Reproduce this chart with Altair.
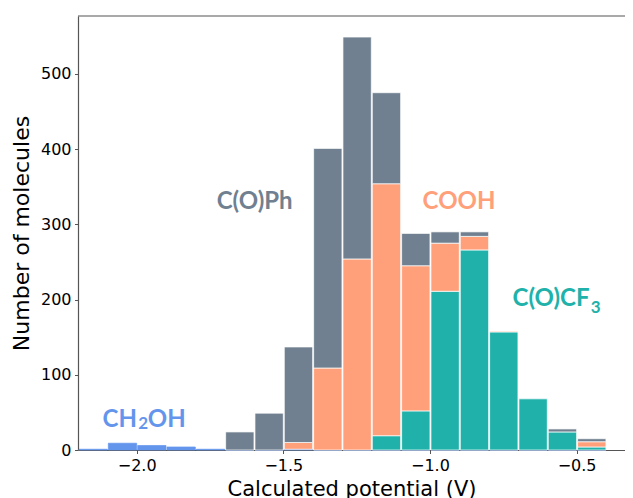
import altair as alt
import pandas as pd

bin_starts = [-2.2, -2.1, -2.0, -1.9, -1.8, -1.7, -1.6, -1.5, -1.4, -1.3,
              -1.2, -1.1, -1.0, -0.9, -0.8, -0.7, -0.6, -0.5]
bin_width = 0.1
series_names = ["CH2OH", "C(O)CF3", "COOH", "C(O)Ph"]
ch2oh = [1, 9, 6, 4, 1, 0, 0, 1, 0, 0, 0, 0, 0, 0, 0, 0, 0, 0]
cocf3 = [0, 0, 0, 0, 0, 0, 0, 0, 0, 0, 19, 52, 211, 266, 157, 68, 24, 4]
cooh = [0, 0, 0, 0, 0, 0, 0, 9, 109, 254, 335, 193, 64, 18, 1, 0, 0, 7]
coph = [0, 0, 0, 0, 0, 24, 49, 127, 292, 295, 121, 43, 15, 6, 0, 0, 4, 4]
colors = ["#6495ED", "#20B2AA", "#FFA07A", "#708090"]

x_ticks = [-2.0, -1.5, -1.0, -0.5]
y_ticks = [0, 100, 200, 300, 400, 500]

rows = []
for order, (name, vals) in enumerate(zip(series_names, [ch2oh, cocf3, cooh, coph])):
    for b, v in zip(bin_starts, vals):
        rows.append({"start": b, "end": round(b + bin_width, 2), "count": v,
                     "series": name, "order": order})
df = pd.DataFrame(rows)

# annotation labels (text pieces for subscripts)
ann_text = ["C(O)Ph", "COOH", "C(O)CF", "3", "CH", "2", "OH"]
ann_x = [-1.727, -1.025, -0.456, -0.452, -1.999, -1.995, -1.962]
ann_y = [319.8, 320.0, 191.3, 182.4, 31.0, 27.5, 31.0]
ann_align = ["left", "left", "right", "left", "right", "left", "left"]
ann_color = ["#708090", "#FFA07A", "#20B2AA", "#20B2AA", "#6495ED", "#6495ED", "#6495ED"]
ann_size = [24, 24, 24, 17, 24, 17, 24]
ann = pd.DataFrame({"text": ann_text, "x": ann_x, "y": ann_y, "align": ann_align,
                    "color": ann_color, "size": ann_size})

xdom = [-2.2, -0.335]
ydom = [0, 577]

xscale = alt.Scale(domain=xdom, nice=False, zero=False)
yscale = alt.Scale(domain=ydom, nice=False)

bars = alt.Chart(df).transform_filter(
    "datum.count > 0 || datum.series == 'CH2OH'"
).mark_bar(strokeWidth=1, strokeOpacity=0.7).encode(
    x=alt.X("start:Q", bin="binned", scale=xscale,
            axis=alt.Axis(values=x_ticks, format=".1f", title="Calculated potential (V)",
                          titleY=45, titleBaseline="alphabetic", titleFontSize=21)),
    x2="end:Q",
    y=alt.Y("count:Q", stack="zero", scale=yscale,
            axis=alt.Axis(values=y_ticks, title="Number of molecules",
                          titleFontSize=22, titleX=-50, titleBaseline="alphabetic")),
    color=alt.Color("series:N", scale=alt.Scale(domain=series_names, range=colors), legend=None),
    stroke=alt.condition(alt.datum.series == "CH2OH", alt.value("#6495ED"), alt.value("white")),
    order=alt.Order("order:Q", sort="ascending"),
)

def label_layer(sub):
    return alt.Chart(sub).mark_text(font="Lato", fontWeight="bold",
                                    baseline="alphabetic",
                                    align=sub["align"].iloc[0]).encode(
        x=alt.X("x:Q", scale=xscale),
        y=alt.Y("y:Q", scale=yscale),
        text="text:N",
        color=alt.Color("color:N", scale=None),
        size=alt.Size("size:Q", scale=None),
    )

labels_left = label_layer(ann[ann["align"] == "left"])
labels_right = label_layer(ann[ann["align"] == "right"])

top_spine = alt.Chart(pd.DataFrame({"a": [0]})).mark_rule(color="#555555", strokeWidth=1.2).encode(
    x=alt.value(0), x2=alt.value(547), y=alt.value(0)
)

chart = alt.layer(bars, labels_left, labels_right, top_spine).properties(
    width=547, height=434,
    autosize=alt.AutoSizeParams(type="none"),
    padding={"left": 70, "top": 8, "right": 0, "bottom": 50},
).configure_view(stroke=None).configure_axis(
    grid=False,
    labelFont="DejaVu Sans", labelFontSize=16, labelColor="#000000",
    titleFont="DejaVu Sans", titleFontWeight="normal", titleColor="#000000",
    domainColor="#555555", domainWidth=1.2, tickColor="#555555", tickSize=3.5,
    labelPadding=3.5,
)

chart.save("out.html", embed_options={"renderer": "svg", "actions": False})
